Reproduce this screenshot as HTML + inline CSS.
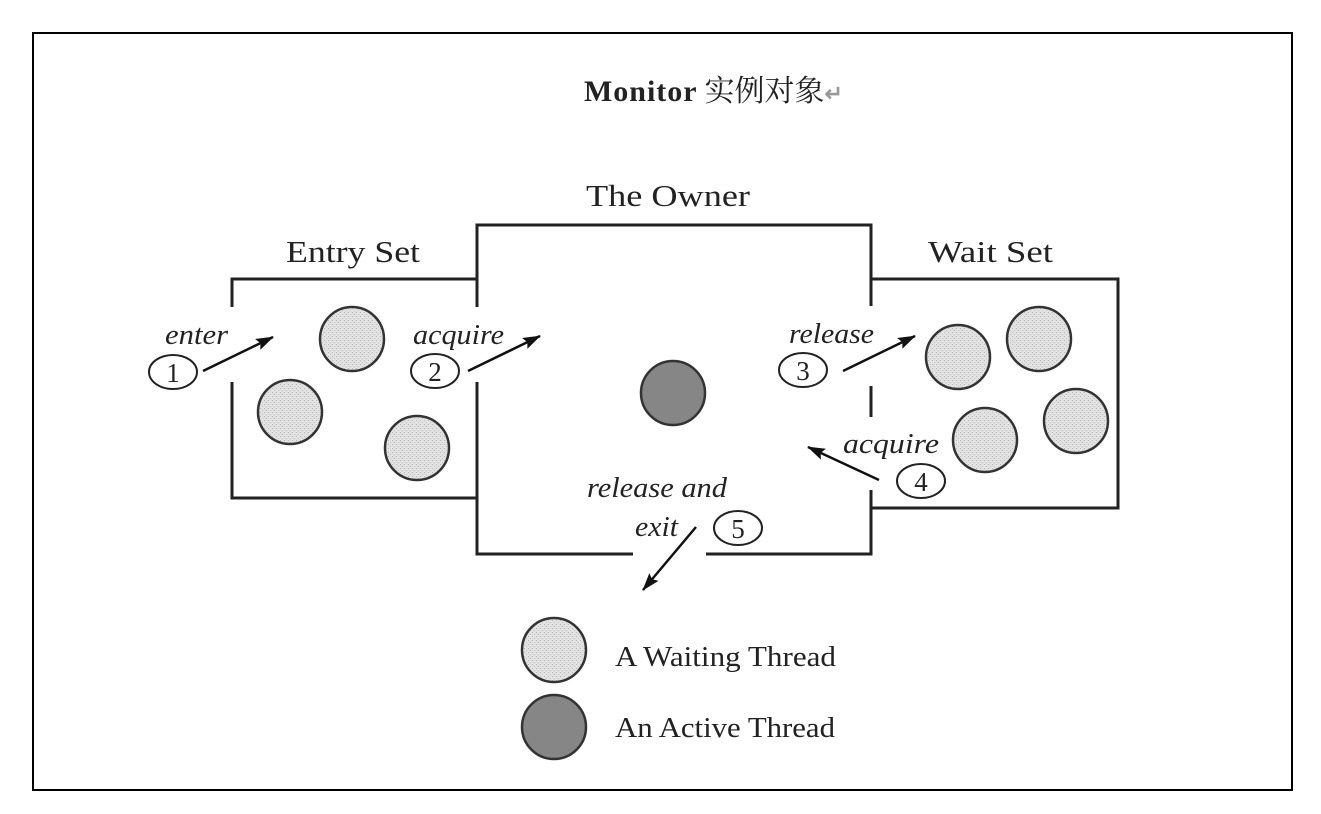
<!DOCTYPE html>
<html><head><meta charset="utf-8"><style>
html,body{margin:0;padding:0;background:#fff;width:1321px;height:814px;overflow:hidden}
svg{display:block}
text{font-family:"Liberation Serif","Noto Serif CJK SC",serif;fill:#222}
</style></head><body>
<svg width="1321" height="814" viewBox="0 0 1321 814" xmlns="http://www.w3.org/2000/svg">
<defs>
<pattern id="dots" width="4" height="4" patternUnits="userSpaceOnUse">
<rect width="4" height="4" fill="#e2e2e2"/><rect width="1" height="1" fill="#b8b8b8"/><rect x="2" y="2" width="1" height="1" fill="#c4c4c4"/>
</pattern>
<marker id="ah" markerWidth="18" markerHeight="12" refX="17" refY="6" orient="auto" markerUnits="userSpaceOnUse"><path d="M0,0 L18,6 L0,12 L3,6 Z" fill="#111"/></marker>
</defs>
<rect x="33" y="33" width="1259" height="757" fill="none" stroke="#000" stroke-width="2"/>
<text x="584" y="101" font-size="30" font-weight="bold" fill="#000"><tspan textLength="112">Monitor</tspan> <tspan font-weight="normal" font-family="Noto Serif CJK SC, serif">实例对象</tspan><tspan fill="#999" font-size="22">↵</tspan></text>

<g stroke="#222" stroke-width="3" fill="none">
<polyline points="232,307 232,279 477,279"/>
<polyline points="232,382 232,498 477,498"/>
<polyline points="477,307 477,225 871,225 871,306"/>
<polyline points="477,382 477,554 633,554"/>
<polyline points="706,554 871,554 871,490"/>
<line x1="871" y1="386" x2="871" y2="417"/>
<polyline points="871,279 1118,279 1118,508 871,508"/>
</g>

<text x="286" y="262" font-size="31" textLength="134" lengthAdjust="spacingAndGlyphs">Entry Set</text>
<text x="586" y="206" font-size="31" textLength="164" lengthAdjust="spacingAndGlyphs">The Owner</text>
<text x="928" y="262" font-size="31" textLength="125" lengthAdjust="spacingAndGlyphs">Wait Set</text>

<g stroke="#333" stroke-width="2.5" fill="url(#dots)">
<circle cx="352" cy="339" r="32"/>
<circle cx="290" cy="412" r="32"/>
<circle cx="417" cy="448" r="32"/>
<circle cx="958" cy="357" r="32"/>
<circle cx="1039" cy="339" r="32"/>
<circle cx="985" cy="440" r="32"/>
<circle cx="1076" cy="421" r="32"/>
<circle cx="554" cy="650" r="32"/>
</g>
<circle cx="673" cy="393" r="32" fill="#868686" stroke="#333" stroke-width="2.5"/>
<circle cx="554" cy="727" r="32" fill="#868686" stroke="#333" stroke-width="2.5"/>

<g stroke="#111" stroke-width="2.5" marker-end="url(#ah)">
<line x1="203" y1="371" x2="273" y2="337"/>
<line x1="468" y1="371" x2="540" y2="336"/>
<line x1="843" y1="371" x2="915" y2="336"/>
<line x1="879" y1="480" x2="808" y2="447"/>
<line x1="696" y1="527" x2="643" y2="590"/>
</g>

<g stroke="#222" stroke-width="2" fill="#fff">
<ellipse cx="173" cy="372" rx="24" ry="17"/>
<ellipse cx="435" cy="371" rx="24" ry="17"/>
<ellipse cx="803" cy="370" rx="24" ry="17"/>
<ellipse cx="921" cy="481" rx="24" ry="17"/>
<ellipse cx="738" cy="528" rx="24" ry="17"/>
</g>
<g font-size="27" text-anchor="middle">
<text x="173" y="382">1</text>
<text x="435" y="381">2</text>
<text x="803" y="380">3</text>
<text x="921" y="491">4</text>
<text x="738" y="538">5</text>
</g>
<g font-size="28" font-style="italic" lengthAdjust="spacingAndGlyphs">
<text x="165" y="344" textLength="63" lengthAdjust="spacingAndGlyphs">enter</text>
<text x="413" y="344" textLength="91" lengthAdjust="spacingAndGlyphs">acquire</text>
<text x="789" y="343" textLength="85" lengthAdjust="spacingAndGlyphs">release</text>
<text x="843" y="453" textLength="96" lengthAdjust="spacingAndGlyphs">acquire</text>
<text x="587" y="497" textLength="140" lengthAdjust="spacingAndGlyphs">release and</text>
<text x="635" y="536" textLength="43" lengthAdjust="spacingAndGlyphs">exit</text>
</g>
<text x="615" y="666" font-size="28" textLength="221" lengthAdjust="spacingAndGlyphs">A Waiting Thread</text>
<text x="615" y="737" font-size="28" textLength="220" lengthAdjust="spacingAndGlyphs">An Active Thread</text>
</svg>
</body></html>
